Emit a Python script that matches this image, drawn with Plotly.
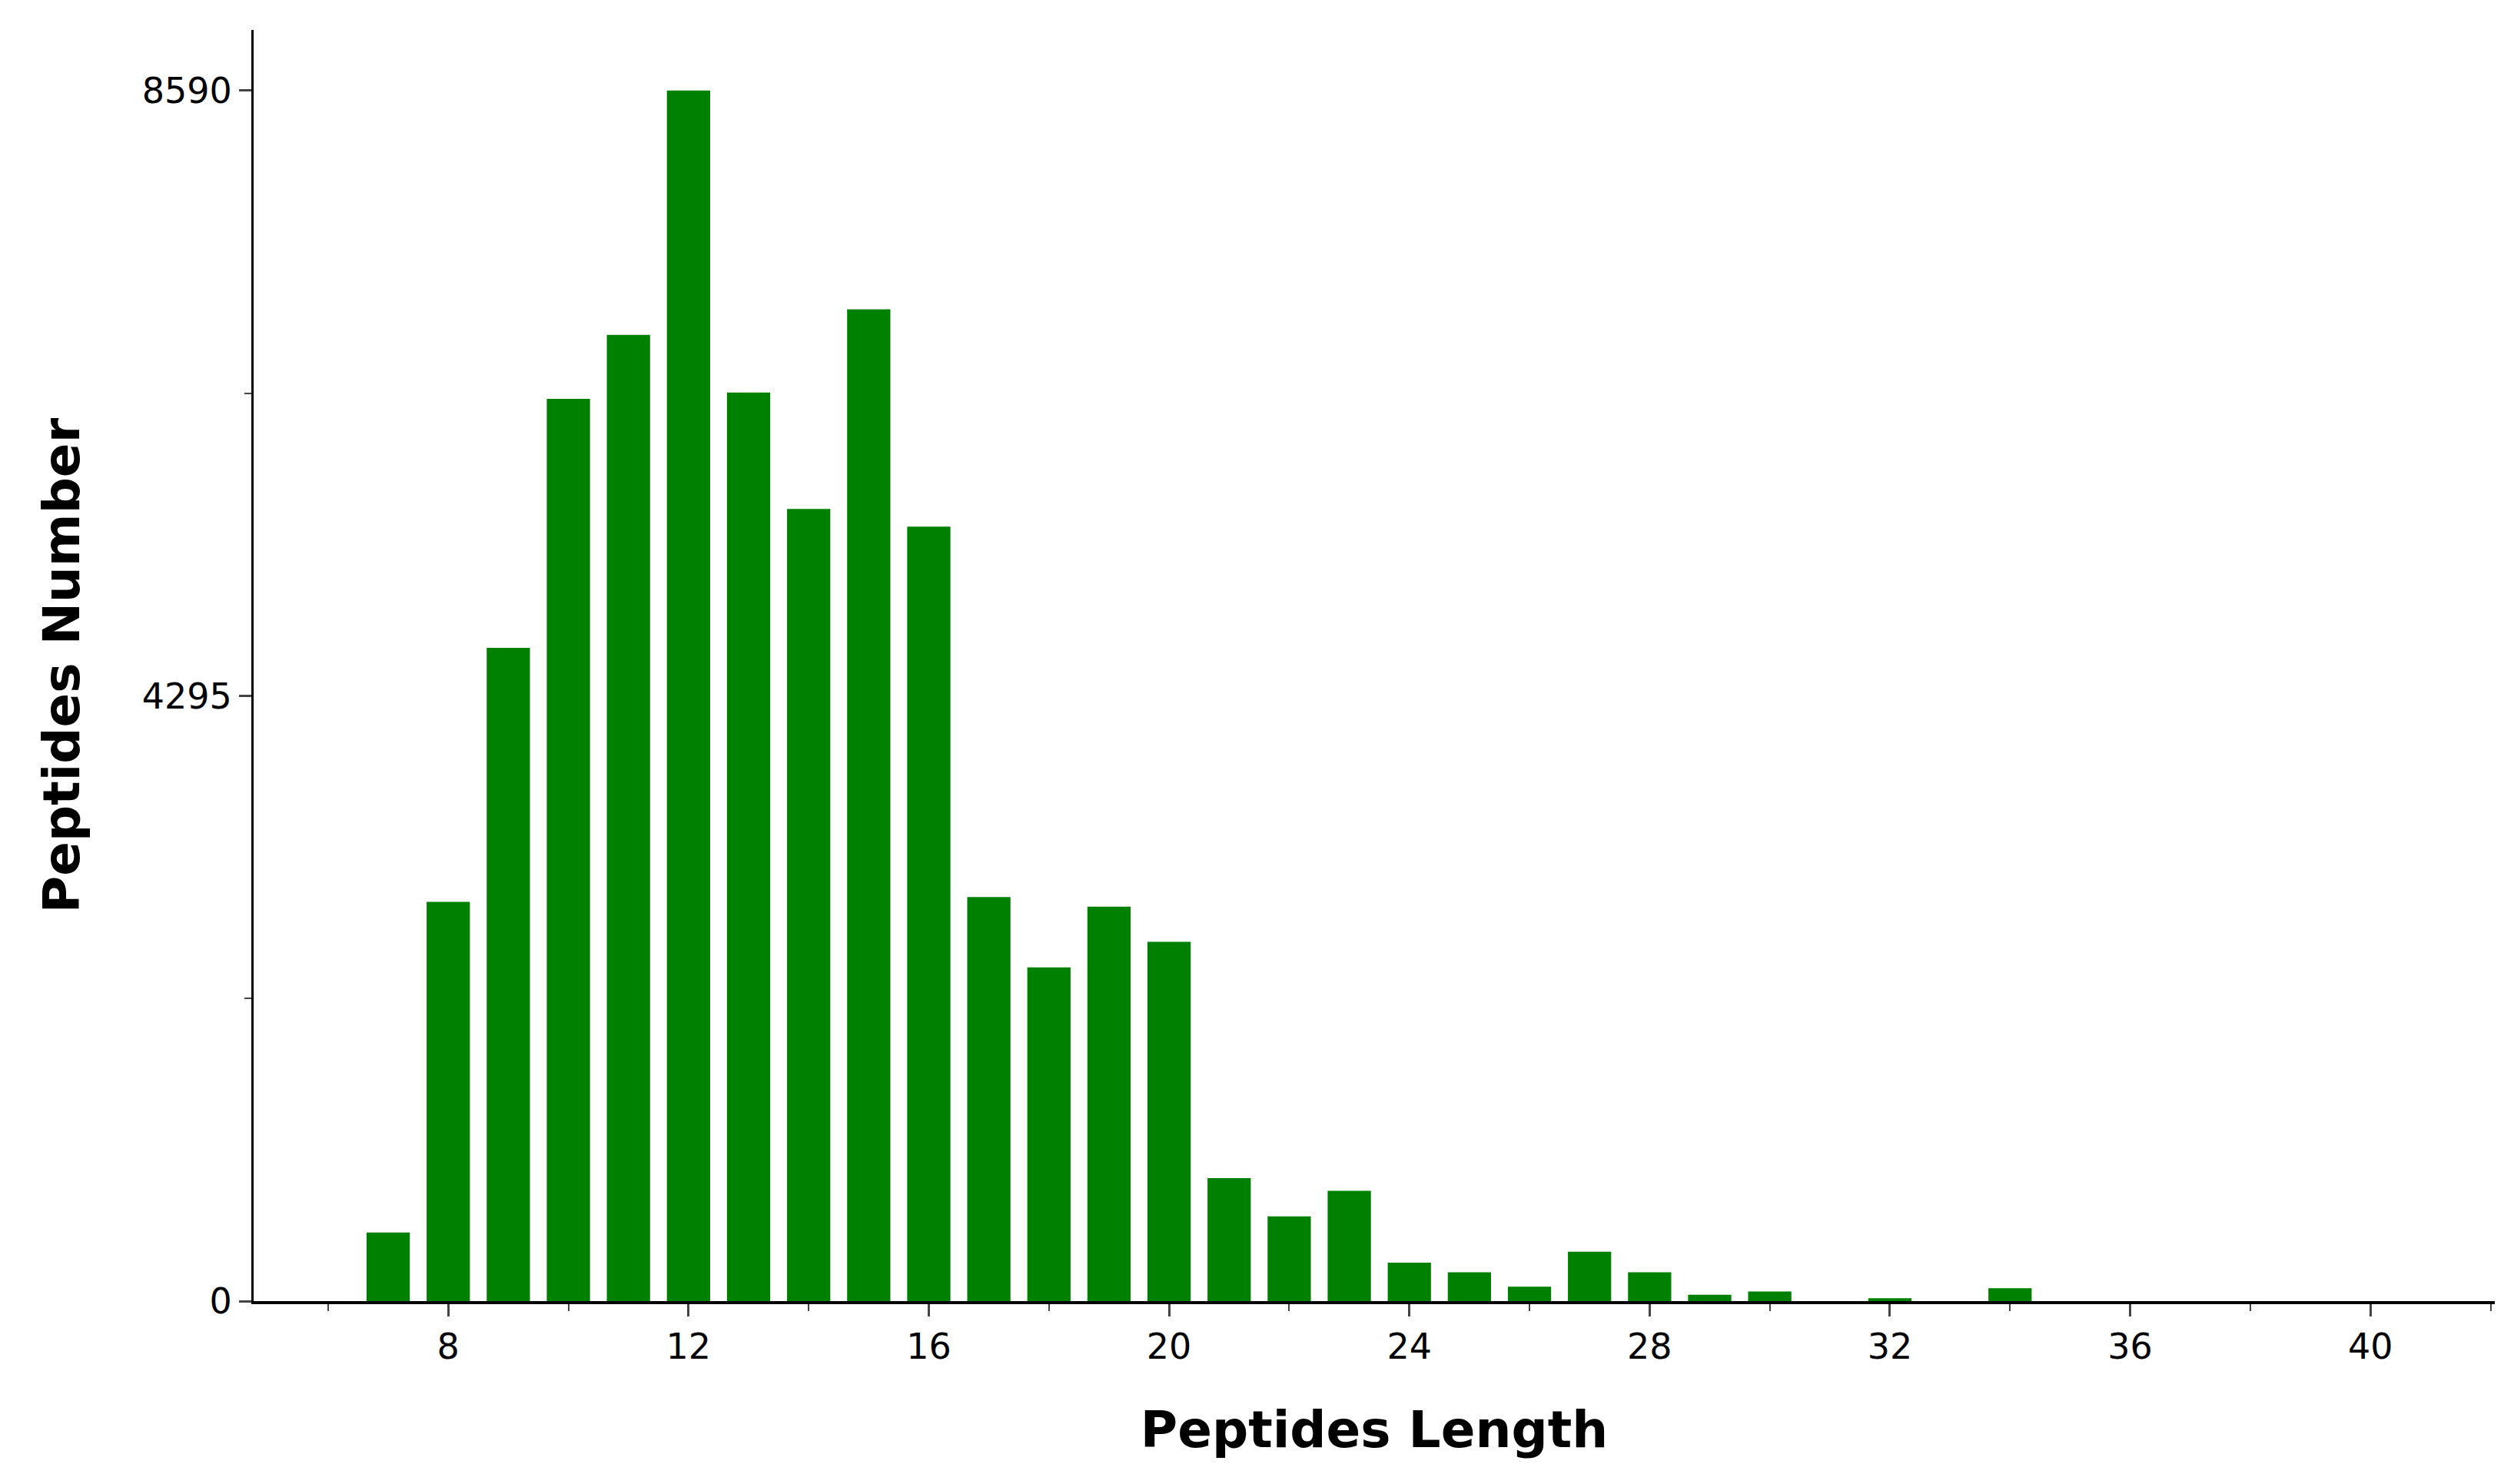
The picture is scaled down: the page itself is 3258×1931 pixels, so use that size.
import plotly.graph_objects as go

lengths = list(range(7, 41))
counts = [487, 2833, 4635, 6403, 6856, 8590, 6448, 5621, 7037, 5496,
          2867, 2368, 2799, 2550, 873, 601, 782, 272, 204, 102,
          351, 204, 45, 68, 0, 20, 0, 91, 0, 0, 0, 0, 0, 0]
y_ticks = [0, 4295, 8590]
x_ticks = [8, 12, 16, 20, 24, 28, 32, 36, 40]

fig = go.Figure(go.Bar(x=lengths, y=counts, width=0.72, marker_color="#008000",
                       marker_line_width=0))
font = dict(family="DejaVu Sans", size=46, color="black")
fig.update_layout(
    width=3258, height=1931, plot_bgcolor="white", paper_bgcolor="white",
    margin=dict(l=322, r=20, t=31, b=246), showlegend=False, font=font,
    xaxis=dict(range=[4.76, 42.07], tickvals=x_ticks, ticks="outside", ticklen=16,
               tickwidth=3, showline=True, linewidth=4, linecolor="black",
               showgrid=False, zeroline=False,
               minor=dict(dtick=2, tick0=0, ticks="outside", ticklen=9, tickwidth=2),
               title=dict(text="<b>Peptides Length</b>", font=dict(size=66), standoff=60)),
    yaxis=dict(range=[0, 9020], tickvals=y_ticks, ticks="outside", ticklen=16,
               tickwidth=3, showline=True, linewidth=3, linecolor="black",
               showgrid=False, zeroline=False,
               minor=dict(dtick=2147.5, tick0=0, ticks="outside", ticklen=9, tickwidth=2),
               title=dict(text="<b>Peptides Number</b>", font=dict(size=66), standoff=60)),
)
fig.write_html("out.html")
